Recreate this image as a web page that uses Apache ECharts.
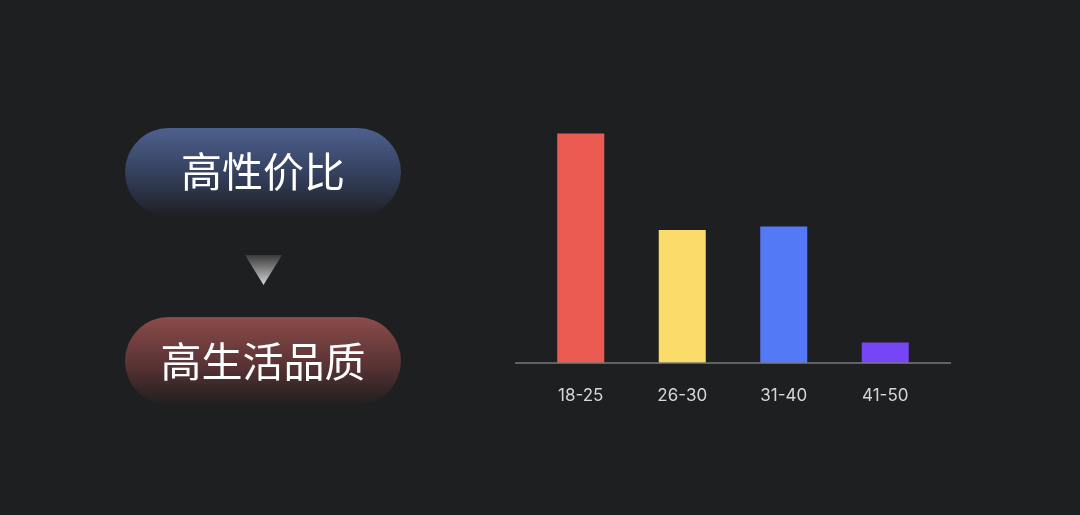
<!DOCTYPE html>
<html>
<head>
<meta charset="utf-8">
<script src="https://cdn.jsdelivr.net/npm/echarts@6/dist/echarts.min.js"></script>
<style>
html,body{margin:0;padding:0;background:#1e1f21;}
#main{width:1080px;height:515px;}
</style>
</head>
<body>
<div id="main"></div>
<script>
const categories = ['18-25', '26-30', '31-40', '41-50'];
const values = [45.9, 26.6, 27.3, 4.1];
const barColors = ['#ec5b52', '#fbdb6a', '#5479f7', '#7645f5'];
const pillTexts = ['高性价比', '高生活品质'];

const chart = echarts.init(document.getElementById('main'));
const font = '"Noto Sans CJK SC", "Noto Sans", sans-serif';

chart.setOption({
  backgroundColor: '#1e1f21',
  animation: false,
  grid: { left: 530, right: 144, top: 113, bottom: 152 },
  xAxis: {
    type: 'category',
    data: categories,
    axisLine: { show: false },
    axisTick: { show: false },
    axisLabel: { color: '#d6d6d6', fontSize: 17, margin: 24, fontFamily: 'Inter, "Noto Sans", sans-serif' }
  },
  yAxis: {
    type: 'value', min: 0, max: 50,
    show: false,
    splitLine: { show: false }
  },
  series: [{
    type: 'bar',
    barWidth: 47,
    data: values.map((v, i) => ({ value: v, itemStyle: { color: barColors[i] } }))
  }],
  graphic: [
    { type: 'line', shape: { x1: 515, y1: 363, x2: 951, y2: 363 },
      style: { stroke: '#7a7a7c', lineWidth: 1.5 }, z: 10 },
    { type: 'rect', shape: { x: 125, y: 128, width: 276, height: 88, r: 44 },
      style: { fill: new echarts.graphic.LinearGradient(0, 0, 0, 1, [
        { offset: 0, color: '#4d608e' }, { offset: 0.55, color: '#333e5a' }, { offset: 1, color: '#1e2024' }
      ]) } },
    { type: 'text', x: 263, y: 171,
      style: { text: pillTexts[0], fill: '#ffffff', font: '41px ' + font, textAlign: 'center', textVerticalAlign: 'middle' } },
    { type: 'polygon', shape: { points: [[245, 255], [282, 255], [263.5, 285]] },
      style: { fill: new echarts.graphic.LinearGradient(0, 0, 0, 1, [
        { offset: 0, color: '#3a3a3c' }, { offset: 1, color: '#d4d4d4' }
      ]) } },
    { type: 'rect', shape: { x: 125, y: 317, width: 276, height: 88, r: 44 },
      style: { fill: new echarts.graphic.LinearGradient(0, 0, 0, 1, [
        { offset: 0, color: '#8c4b4b' }, { offset: 0.55, color: '#593334' }, { offset: 1, color: '#201e1f' }
      ]) } },
    { type: 'text', x: 263, y: 361,
      style: { text: pillTexts[1], fill: '#ffffff', font: '41px ' + font, textAlign: 'center', textVerticalAlign: 'middle' } }
  ]
});
</script>
</body>
</html>
